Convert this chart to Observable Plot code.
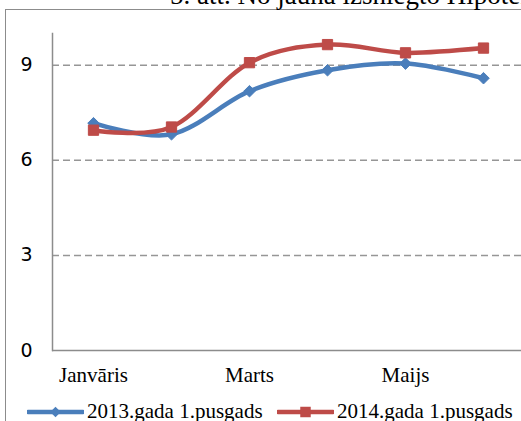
<!DOCTYPE html>
<html>
<head>
<meta charset="utf-8">
<script src="https://cdn.jsdelivr.net/npm/d3@7"></script>
<script src="https://cdn.jsdelivr.net/npm/@observablehq/plot@0.6"></script>
<style>
  body { margin: 0; background: #fff; }
  #wrap { position: relative; width: 521px; height: 421px; overflow: hidden; background: #fff; }
  #border { position: absolute; left: 5px; top: 9px; width: 600px; height: 500px;
            border-left: 1.5px solid #8c8c8c; border-top: 1.5px solid #8c8c8c; }
  #title { position: absolute; left: 170px; top: -18px; white-space: nowrap;
           font: 27px "Liberation Serif", "Times New Roman", serif; line-height: 1; color: #000; }
  #chart { position: absolute; left: 0; top: 0; }
  #legend { position: absolute; left: 0; top: 0; width: 521px; height: 421px; pointer-events: none; }
  .li { position: absolute; top: 398px; display: flex; align-items: center; white-space: nowrap;
        font: 21px "Liberation Serif", "Times New Roman", serif; line-height: 26px; color: #000; }
  .li svg { display: block; margin-right: 3px; }
</style>
</head>
<body>
<div id="wrap">
  <div id="border"></div>
  <div id="title"></div>
  <div id="chart"></div>
  <div id="legend"></div>
</div>
<script>
const titleText = "5. att. No jauna izsniegto Hipotekāro kredītu apjoms";
const months = ["Janvāris", "Februāris", "Marts", "Aprīlis", "Maijs", "Jūnijs"];
const monthTicks = ["Janvāris", "Marts", "Maijs"];
const yTicks = [0, 3, 6, 9];
const gridValues = [3, 6, 9];
const series2013Name = "2013.gada 1.pusgads";
const series2014Name = "2014.gada 1.pusgads";
const values2013 = [7.17, 6.82, 8.18, 8.84, 9.05, 8.59];
const values2014 = [6.95, 7.05, 9.08, 9.65, 9.39, 9.54];
const blue = "#4A7EBB";
const red = "#BE4B48";

document.getElementById("title").textContent = titleText;

const d2013 = months.map((m, i) => ({month: m, value: values2013[i]}));
const d2014 = months.map((m, i) => ({month: m, value: values2014[i]}));

const chart = Plot.plot({
  width: 521,
  height: 421,
  marginLeft: 52,
  marginRight: 0,
  marginTop: 33,
  marginBottom: 71,
  style: {background: "transparent", overflow: "visible"},
  x: {type: "point", domain: months, range: [90.5, 484.5], padding: 0},
  y: {domain: [0, 10]},
  marks: [
    Plot.ruleY(gridValues, {stroke: "#969696", strokeWidth: 1.5, strokeDasharray: "7,4"}),
    Plot.frame({anchor: "left", stroke: "#8c8c8c", strokeWidth: 1.5}),
    Plot.ruleY([0], {stroke: "#8c8c8c", strokeWidth: 1.5}),
    Plot.axisY({ticks: yTicks, tickSize: 0, tickPadding: 20, label: null,
      fontFamily: "DejaVu Sans", fontSize: 19, fill: "#000"}),
    Plot.axisX({ticks: monthTicks, tickSize: 0, tickPadding: 17, label: null,
      fontFamily: "Liberation Serif", fontSize: 21, fill: "#000"}),
    Plot.line(d2013, {x: "month", y: "value", stroke: blue, strokeWidth: 4.5, curve: "cardinal"}),
    Plot.line(d2014, {x: "month", y: "value", stroke: red, strokeWidth: 4.5, curve: "cardinal"}),
    Plot.dot(d2013, {x: "month", y: "value", symbol: "diamond2", r: 5.2, fill: blue, stroke: blue, strokeWidth: 1}),
    Plot.dot(d2014, {x: "month", y: "value", symbol: "square", r: 5.8, fill: red, stroke: red, strokeWidth: 1})
  ]
});
document.getElementById("chart").appendChild(chart);

// legend
function legendItem(left, color, symbol, name) {
  const div = document.createElement("div");
  div.className = "li";
  div.style.left = left + "px";
  const ns = "http://www.w3.org/2000/svg";
  const svg = document.createElementNS(ns, "svg");
  svg.setAttribute("width", 57);
  svg.setAttribute("height", 26);
  const ln = document.createElementNS(ns, "line");
  ln.setAttribute("x1", 1); ln.setAttribute("x2", 56);
  ln.setAttribute("y1", 14); ln.setAttribute("y2", 14);
  ln.setAttribute("stroke", color); ln.setAttribute("stroke-width", 4.5);
  ln.setAttribute("stroke-linecap", "round");
  svg.appendChild(ln);
  const p = document.createElementNS(ns, "path");
  p.setAttribute("d", d3.symbol(symbol === "diamond" ? d3.symbolDiamond2 : d3.symbolSquare, symbol === "diamond" ? 70 : 110)());
  p.setAttribute("transform", "translate(28.5,14)");
  p.setAttribute("fill", color);
  svg.appendChild(p);
  div.appendChild(svg);
  const t = document.createElement("span");
  t.textContent = name;
  div.appendChild(t);
  document.getElementById("legend").appendChild(div);
}
legendItem(27, blue, "diamond", series2013Name);
legendItem(277, red, "square", series2014Name);
</script>
</body>
</html>
